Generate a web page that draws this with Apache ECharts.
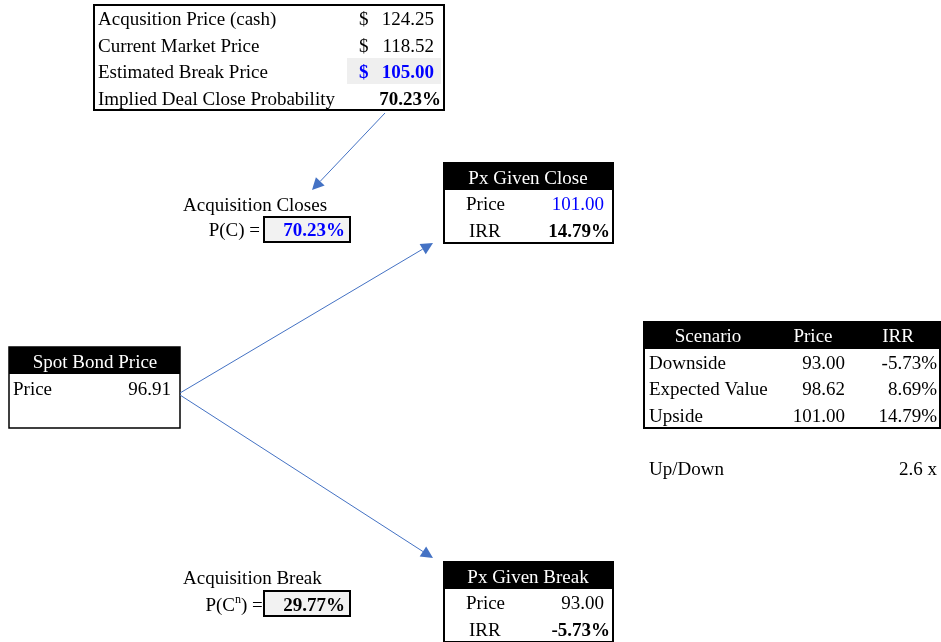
<!DOCTYPE html>
<html><head><meta charset="utf-8">
<script src="https://cdn.jsdelivr.net/npm/echarts@6/dist/echarts.min.js"></script>
<style>html,body{margin:0;padding:0;background:#fff}#c{width:941px;height:642px}</style>
</head><body><div id="c"></div>
<script>
// ---- data ----
const topLabels = ['Acqusition Price (cash)', 'Current Market Price', 'Estimated Break Price', 'Implied Deal Close Probability'];
const topValues = ['124.25', '118.52', '105.00', '70.23%'];
const closeTitle = 'Acquisition Closes';
const closeProb = '70.23%';
const breakTitle = 'Acquisition Break';
const breakProb = '29.77%';
const spotTitle = 'Spot Bond Price';
const spotPrice = '96.91';
const closeBoxTitle = 'Px Given Close';
const closeBoxValues = ['101.00', '14.79%'];
const breakBoxTitle = 'Px Given Break';
const breakBoxValues = ['93.00', '-5.73%'];
const rowLabels = ['Price', 'IRR'];
const scenarioHeader = ['Scenario', 'Price', 'IRR'];
const scenarioNames = ['Downside', 'Expected Value', 'Upside'];
const scenarioPrices = ['93.00', '98.62', '101.00'];
const scenarioIRR = ['-5.73%', '8.69%', '14.79%'];
const upDownLabel = 'Up/Down';
const upDownValue = '2.6 x';

// ---- drawing ----
const FONT = 'Liberation Serif, Times New Roman, serif';
const FS = 19;
const BLUE = '#0000FF';
const ARROW = '#4472C4';
const DY = 2;
const els = [];
function txt(s, x, y, opt) {
  opt = opt || {};
  els.push({type: 'text', z: 10, style: {text: s, x: x, y: y + DY, fill: opt.fill || '#000',
    font: (opt.bold ? 'bold ' : '') + (opt.size || FS) + 'px ' + FONT,
    textAlign: opt.align || 'left', textVerticalAlign: 'middle'}});
}
function rect(x, y, w, h, opt) {
  opt = opt || {};
  els.push({type: 'rect', z: opt.z || 1, shape: {x: x, y: y, width: w, height: h},
    style: {fill: opt.fill || 'none', stroke: opt.stroke || null, lineWidth: opt.lw || 0}});
}
function arrow(x1, y1, x2, y2) {
  const a = Math.atan2(y2 - y1, x2 - x1), L = 12, W = 6;
  const bx = x2 - L * Math.cos(a), by = y2 - L * Math.sin(a);
  els.push({type: 'line', z: 5, shape: {x1: x1, y1: y1, x2: bx, y2: by}, style: {stroke: ARROW, lineWidth: 1}});
  els.push({type: 'polygon', z: 5, shape: {points: [[x2, y2],
    [bx + W * Math.sin(a), by - W * Math.cos(a)], [bx - W * Math.sin(a), by + W * Math.cos(a)]]},
    style: {fill: ARROW}});
}

// top box
rect(347, 58, 94, 26, {fill: '#EFEFEF'});
rect(94, 5, 350, 105, {stroke: '#000', lw: 2, z: 3});
topLabels.forEach((l, i) => {
  const y = 18 + i * 26.6;
  txt(l, 98, y);
  if (i < 3) {
    txt('$', 359, y, {fill: i === 2 ? BLUE : '#000', bold: i === 2});
    txt(topValues[i], 434, y, {align: 'right', fill: i === 2 ? BLUE : '#000', bold: i === 2});
  } else {
    txt(topValues[i], 441, y, {align: 'right', bold: true});
  }
});

// probability boxes
txt(closeTitle, 183, 204);
txt('P(C) =', 260, 229, {align: 'right'});
rect(264, 217, 86, 25, {fill: '#F2F2F2', stroke: '#000', lw: 2});
txt(closeProb, 345, 229, {align: 'right', fill: BLUE, bold: true});

txt(breakTitle, 183, 577);
txt('P(C', 235, 604, {align: 'right'});
txt('n', 235, 598, {size: 12});
txt(') =', 241, 604);
rect(264, 591, 86, 25, {fill: '#F2F2F2', stroke: '#000', lw: 2});
txt(breakProb, 345, 604, {align: 'right', bold: true});

// outcome boxes
function outcomeBox(x, y, title, vals, priceBlue) {
  rect(x, y, 169, 27, {fill: '#000'});
  rect(x, y, 169, 80, {stroke: '#000', lw: 2, z: 3});
  txt(title, x + 84, y + 14, {fill: '#fff', align: 'center'});
  txt(rowLabels[0], x + 22, y + 40);
  txt(vals[0], x + 160, y + 40, {align: 'right', fill: priceBlue ? BLUE : '#000'});
  txt(rowLabels[1], x + 25, y + 67);
  txt(vals[1], x + 166, y + 67, {align: 'right', bold: true});
}
outcomeBox(444, 163, closeBoxTitle, closeBoxValues, true);
outcomeBox(444, 562, breakBoxTitle, breakBoxValues, false);

// spot box
rect(9, 347, 171, 27, {fill: '#000'});
rect(9, 347, 171, 81, {stroke: '#000', lw: 1.5, z: 3});
txt(spotTitle, 95, 361, {fill: '#fff', align: 'center'});
txt('Price', 13, 388);
txt(spotPrice, 171, 388, {align: 'right'});

// scenario table
rect(644, 322, 297, 27, {fill: '#000'});
rect(644, 322, 296, 106, {stroke: '#000', lw: 2, z: 3});
txt(scenarioHeader[0], 708, 335, {fill: '#fff', align: 'center'});
txt(scenarioHeader[1], 813, 335, {fill: '#fff', align: 'center'});
txt(scenarioHeader[2], 898, 335, {fill: '#fff', align: 'center'});
scenarioNames.forEach((n, i) => {
  const y = 362 + i * 26.5;
  txt(n, 649, y);
  txt(scenarioPrices[i], 845, y, {align: 'right'});
  txt(scenarioIRR[i], 937, y, {align: 'right'});
});
txt(upDownLabel, 649, 468);
txt(upDownValue, 937, 468, {align: 'right'});

// arrows
arrow(385, 113, 312, 190);
arrow(180, 393, 433, 243);
arrow(180, 395, 433, 558);

const chart = echarts.init(document.getElementById('c'), null, {renderer: 'canvas'});
chart.setOption({backgroundColor: '#fff', animation: false, graphic: {elements: els}});
</script></body></html>
